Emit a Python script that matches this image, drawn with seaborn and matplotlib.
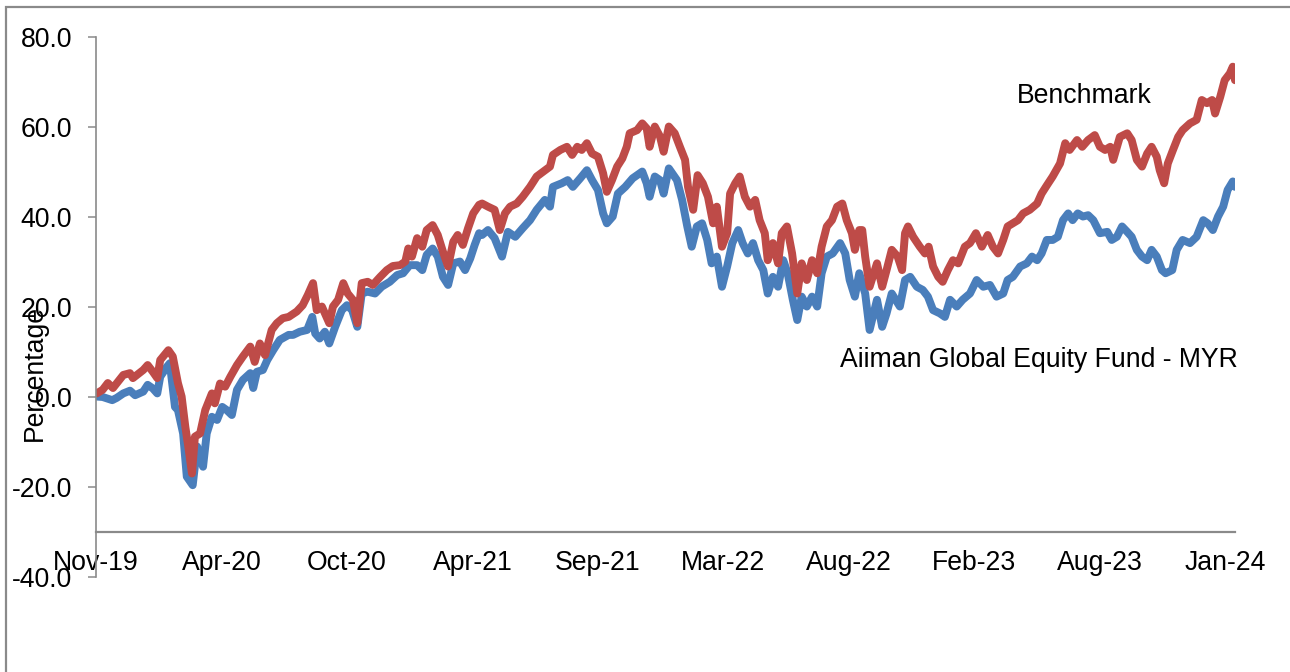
import numpy as np
import pandas as pd
import matplotlib
matplotlib.use("Agg")
import matplotlib.pyplot as plt
from matplotlib.patches import Rectangle
import seaborn as sns

# ---------------- data (days since start, cumulative return %) ----------------
bench_day = [1, 9, 16, 23, 37, 46, 50, 64, 70, 77, 83, 87, 98, 104, 111, 116, 121, 125, 130, 134,
             141, 148, 157, 161, 168, 175, 182, 191, 199, 209, 215, 222, 229, 238, 245, 253, 261,
             272, 280, 287, 294, 299, 306, 310, 316, 321, 328, 335, 341, 348, 354, 360, 368, 375,
             385, 394, 402, 412, 419, 423, 428, 435, 442, 448, 456, 463, 470, 477, 484, 490, 497,
             504, 511, 519, 523, 531, 540, 547, 554, 561, 570, 578, 588, 597, 606, 615, 619, 629,
             638, 645, 652, 658, 665, 672, 680, 687, 692, 699, 706, 713, 719, 723, 733, 740, 746,
             750, 757, 764, 769, 776, 784, 791, 798, 802, 809, 815, 822, 829, 836, 841, 848, 855,
             859, 866, 872, 879, 886, 893, 899, 906, 910, 917, 924, 929, 936, 943, 950, 956, 963,
             970, 977, 983, 990, 997, 1004, 1011, 1017, 1024, 1028, 1034, 1038, 1042, 1048, 1058,
             1065, 1071, 1078, 1086, 1092, 1096, 1100, 1107, 1116, 1123, 1128, 1134, 1141, 1147,
             1154, 1161, 1168, 1177, 1184, 1192, 1200, 1208, 1215, 1222, 1229, 1235, 1242, 1249,
             1256, 1265, 1275, 1281, 1288, 1296, 1306, 1313, 1319, 1329, 1336, 1344, 1353, 1360,
             1367, 1374, 1378, 1387, 1397, 1403, 1410, 1417, 1424, 1430, 1437, 1441, 1447, 1452,
             1459, 1466, 1472, 1482, 1491, 1498, 1505, 1512, 1516, 1523, 1529, 1536, 1540, 1543]
bench_val = [0.8, 1.6, 3.1, 2.0, 4.9, 5.3, 4.2, 6.0, 7.1, 5.6, 4.2, 8.2, 10.4, 9.0, 3.1, 0.1, -6.6,
             -11.0, -17.0, -8.8, -8.1, -2.9, 0.8, -1.4, 3.0, 2.3, 4.5, 7.1, 9.0, 11.2, 7.8, 11.9,
             9.3, 14.9, 16.4, 17.5, 17.8,
             19.0, 20.4, 22.7, 25.3, 19.3, 20.1, 18.6, 16.4, 20.1, 21.6, 25.3, 23.0, 21.6, 16.4,
             25.3, 25.6, 24.9, 26.7, 28.2, 29.1, 29.3, 30.1, 33.0, 31.2, 35.3, 33.4, 37.1, 38.2,
             36.0, 32.3, 29.0, 34.5, 36.0, 33.8, 37.5, 40.8, 42.7,
             43.0, 42.3, 41.6, 37.1, 40.8, 42.3, 43.0, 44.5, 46.7, 49.0, 50.1, 51.2, 53.8, 54.9,
             55.6, 53.8, 55.6, 54.9, 56.4, 54.1, 53.4, 49.7, 45.6, 48.2, 51.2, 53.0, 55.6, 58.6,
             59.3, 60.8, 59.7, 55.6, 60.1, 57.9, 54.5, 60.1,
             58.6, 55.6, 52.7, 46.7, 41.6, 49.3, 47.5, 44.5, 38.6, 42.3, 33.4, 36.4, 45.2, 47.5,
             49.0, 44.5, 42.3, 43.8, 39.3, 36.4, 30.4, 34.2, 29.7, 36.4, 37.9, 31.9, 23.0, 29.7,
             26.0, 30.4, 27.5, 33.4, 37.9, 39.3, 42.3, 43.0, 39.3, 36.4, 32.7, 37.1,
             37.1, 31.2, 24.5, 29.7, 24.5, 28.2, 32.7, 31.2, 28.2, 36.4, 37.9, 35.6, 33.4, 31.9,
             33.4, 29.0, 26.7, 25.6, 28.2, 30.4, 29.7, 33.4, 34.2, 36.4, 33.4, 36.0, 33.4, 31.9,
             34.9, 37.9, 38.6, 39.3, 40.8, 41.6, 43.0,
             45.2, 47.0, 49.0, 51.9, 56.4, 54.9, 57.1, 55.6, 57.1, 58.2, 55.6, 54.9, 55.6, 52.7,
             57.8, 58.6, 57.1, 52.7, 51.2, 54.1, 55.6, 53.4, 50.4, 47.5, 51.9, 54.9, 57.8, 59.3,
             60.8, 61.6, 66.0, 65.3, 66.0, 63.0, 66.7, 70.4, 71.9, 73.4, 70.4]

fund_day = [1, 9, 22, 28, 37, 46, 53, 64, 70, 77, 83, 87, 96, 100, 107, 111, 118, 123, 131, 137,
            145, 150, 157, 164, 171, 177, 184, 191, 199, 209, 213, 218, 226, 232, 240, 249, 261,
            267, 276, 286, 293, 297, 303, 310, 316, 324, 333, 340, 347, 354, 360, 368, 378, 387,
            398, 408, 416, 425, 435, 442, 448, 456, 463, 470, 477, 484, 493, 500, 507, 513, 519,
            523, 531, 540, 550, 558, 568, 578, 588, 597, 608, 615, 619, 631, 639, 646, 656, 665,
            672, 680, 687, 692, 700, 707, 717, 727, 740, 746, 750, 757, 764, 769, 776,
            787, 794, 801, 807, 814, 821, 828, 834, 841, 848, 855, 862, 870, 876, 883, 890, 897,
            904, 910, 917, 924, 931, 937, 944, 950, 956, 963, 970, 977, 983, 990, 998, 1008, 1015,
            1021, 1028, 1034,
            1042, 1048, 1058, 1065, 1071, 1078, 1089, 1096, 1103, 1112, 1120, 1127, 1134, 1143,
            1150, 1157, 1166, 1174, 1184, 1193, 1202, 1211, 1220, 1229, 1235, 1242, 1252, 1261,
            1268, 1275, 1281, 1288,
            1296, 1303, 1310, 1317, 1323, 1330, 1337, 1344, 1351, 1360, 1370, 1376, 1383, 1390,
            1397, 1403, 1410, 1417, 1424, 1430, 1437, 1444, 1449, 1458, 1464, 1472, 1482, 1491,
            1500, 1506, 1513, 1520, 1527, 1533, 1540, 1543]
fund_val = [0.1, 0.0, -0.7, -0.2, 0.8, 1.4, 0.4, 1.2, 2.7, 1.9, 0.8, 4.5, 6.7, 7.5, -2.2, -2.9,
            -8.1, -17.7, -19.6, -11.0, -15.5, -8.1, -4.4, -5.1, -2.2, -2.9, -4.0, 1.6, 3.8, 5.3,
            2.0, 5.6, 6.0, 8.2, 10.4, 12.7, 13.8,
            13.8, 14.5, 14.9, 17.8, 14.1, 13.0, 14.5, 11.9, 15.6, 19.3, 20.4, 19.3, 15.6, 23.0,
            23.4, 23.0, 24.5, 25.6, 27.1, 27.5, 29.3, 29.3, 28.2, 31.6, 33.0, 31.2, 26.7, 24.9,
            29.7, 30.1, 28.2, 30.8, 33.8, 36.4,
            36.0, 37.1, 35.3, 31.2, 36.7, 35.6, 37.5, 39.3, 41.6, 43.8, 42.3, 46.7, 47.5, 48.2,
            46.7, 48.6, 50.4, 48.2, 46.0, 40.8, 38.6, 40.1, 45.2, 46.7, 48.6, 50.1, 47.5, 44.5,
            49.0, 48.2, 45.2, 50.8,
            48.2, 43.8, 37.9, 33.4, 37.9, 38.6, 34.9, 29.7, 31.2, 24.5, 29.0, 34.2, 37.1, 34.2,
            31.9, 34.2, 30.4, 28.2, 23.0, 26.7, 24.5, 30.4, 27.5, 21.6, 17.1, 22.3, 20.1, 22.3,
            20.1, 27.5, 31.2, 31.9, 34.2, 31.9, 26.0, 22.3, 27.5,
            23.0, 14.9, 21.6, 15.6, 18.6, 23.0, 20.1, 26.0, 26.7, 24.5, 23.8, 22.3, 19.3, 18.6,
            17.8, 21.6, 20.1, 21.6, 23.0, 26.0, 24.5, 24.9, 22.3, 23.0, 26.0, 26.7, 29.0, 29.7,
            31.2, 30.4, 31.9, 34.9,
            34.9, 35.6, 39.3, 40.8, 39.3, 40.8, 40.1, 40.4, 39.3, 36.4, 36.7, 34.9, 35.6, 37.9,
            36.7, 35.6, 32.7, 31.2, 30.4, 32.7, 31.2, 28.2, 27.5, 28.2, 32.7, 34.9, 34.2, 35.6,
            39.3, 38.6, 37.1, 40.1, 42.3, 46.0, 47.9, 46.7]

tick_days = [0, 170, 340, 510, 680, 850, 1020, 1190, 1360, 1530]
tick_labels = ["Nov-19", "Apr-20", "Oct-20", "Apr-21", "Sep-21", "Mar-22",
               "Aug-22", "Feb-23", "Aug-23", "Jan-24"]
y_ticks = [-40, -20, 0, 20, 40, 60, 80]

fund_name = "Aiiman Global Equity Fund - MYR"
bench_name = "Benchmark"

# ---------------- style ----------------
sns.set_style("white")
FS = 19.2
grey = "#8A8A8A"
plt.rcParams["font.family"] = ["Liberation Sans", "DejaVu Sans"]
plt.rcParams["axes.unicode_minus"] = False
plt.rcParams["xtick.labelsize"] = FS
plt.rcParams["ytick.labelsize"] = FS
plt.rcParams["xtick.color"] = "black"
plt.rcParams["ytick.color"] = "black"
plt.rcParams["text.color"] = "black"
plt.rcParams["axes.labelcolor"] = "black"

W, H = 1290, 672
fig = plt.figure(figsize=(W / 100, H / 100), dpi=100)
ax = fig.add_axes([96 / W, 1 - 577 / H, 1139 / W, 540 / H])

# spine placement first (it resets tick objects)
ax.spines["bottom"].set_position(("data", -30))

df_f = pd.DataFrame({"day": fund_day, "val": fund_val})
df_b = pd.DataFrame({"day": bench_day, "val": bench_val})

lw = 5.7
sns.lineplot(data=df_f, x="day", y="val", ax=ax, color="#4A7EBB", lw=lw,
             solid_capstyle="round", solid_joinstyle="round")
sns.lineplot(data=df_b, x="day", y="val", ax=ax, color="#BE4B48", lw=lw,
             solid_capstyle="round", solid_joinstyle="round")

ax.set_xlim(0, 1543)
ax.set_ylim(-40, 80)

ax.set_yticks(y_ticks)
ax.set_yticklabels([f"{v:.1f}" for v in y_ticks], fontsize=FS, color="black")
ax.tick_params(axis="y", direction="out", length=5.8, width=1.1, color=grey,
               pad=11.5, left=True, labelsize=FS, labelcolor="black")

ax.set_xticks(tick_days)
ax.set_xticklabels(tick_labels, fontsize=FS, color="black")
ax.tick_params(axis="x", length=0, pad=13.2, labelsize=FS, labelcolor="black")

for s in ["top", "right"]:
    ax.spines[s].set_visible(False)
ax.spines["left"].set_color(grey)
ax.spines["left"].set_linewidth(1.2)
ax.spines["bottom"].set_color(grey)
ax.spines["bottom"].set_linewidth(1.6)

ax.set_xlabel("")
ax.set_ylabel("Percentage", fontsize=FS, color="black")
ax.yaxis.set_label_coords((35 - 96) / 1139, (577 - 373) / 540)
ax.yaxis.label.set_va("center")

ax.text(1248, 66.9, bench_name, fontsize=FS, ha="left", va="center", color="black")
ax.text(1008, 8.2, fund_name, fontsize=FS, ha="left", va="center", color="black")

# outer chart-area border
fig.patches.append(Rectangle((6 / W, -0.2), 1.5, (H - 6.5) / H + 0.2,
                             transform=fig.transFigure, fill=False,
                             edgecolor=grey, linewidth=1.6))

fig.savefig("out.png", dpi=100)
